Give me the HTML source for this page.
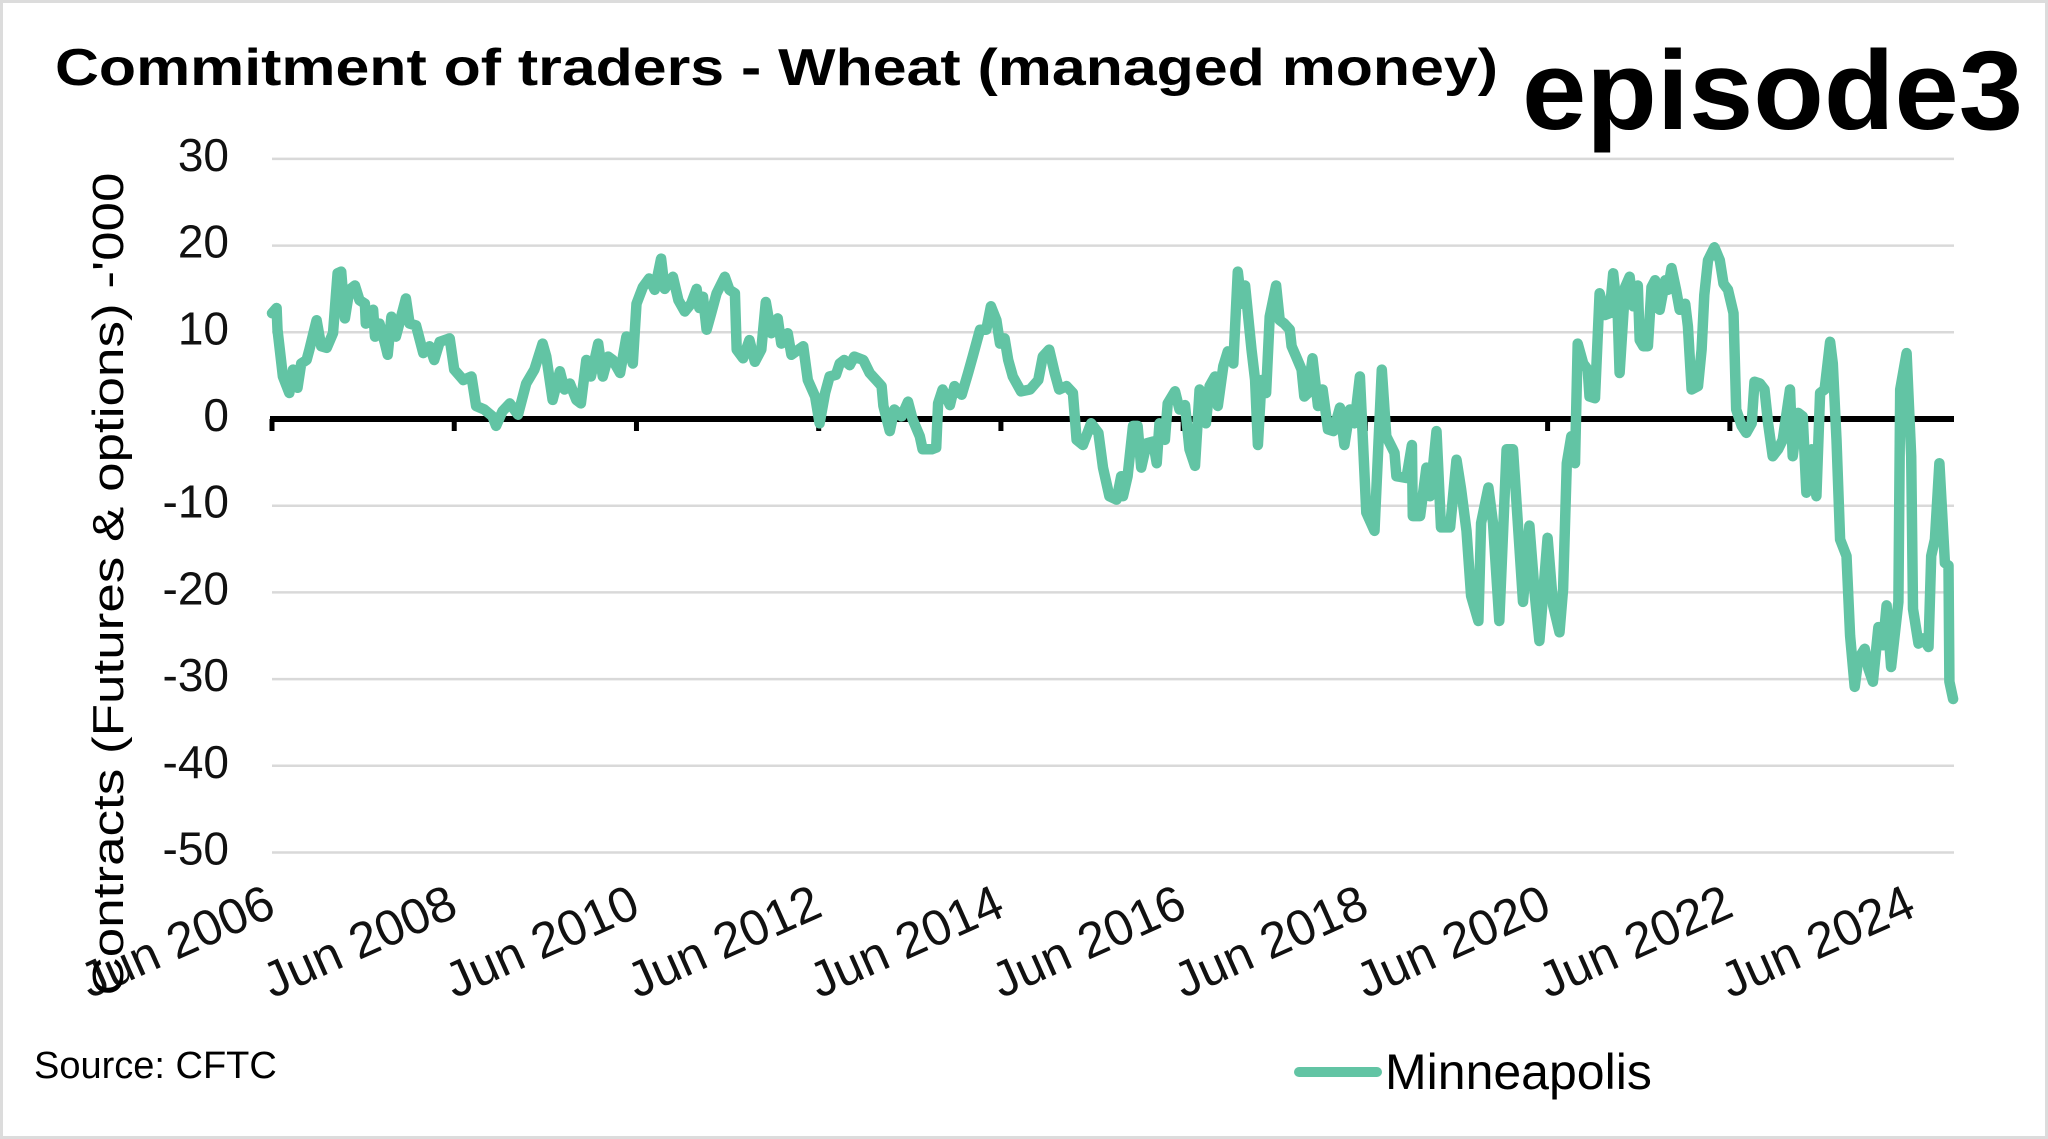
<!DOCTYPE html>
<html>
<head>
<meta charset="utf-8">
<style>
  html,body{margin:0;padding:0;background:#fff;}
  #wrap{position:relative;width:2048px;height:1139px;overflow:hidden;background:#fff;box-sizing:border-box;border:3px solid #dcdcdc;}
  svg{position:absolute;left:0;top:0;}
  text{font-family:"Liberation Sans",sans-serif;}
</style>
</head>
<body>
<div id="wrap">
<svg id="chart" width="2048" height="1139" viewBox="0 0 2048 1139">
  <text x="52" y="82" font-size="52" font-weight="bold" fill="#000" textLength="1443" lengthAdjust="spacingAndGlyphs">Commitment of traders - Wheat (managed money)</text>
  <text x="1519" y="126" font-size="112" font-weight="bold" fill="#000" textLength="501" lengthAdjust="spacingAndGlyphs">episode3</text>
  <g id="grid"></g>
  <g id="yticks"></g>
  <g id="xaxis"></g>
  <g id="series"></g>
  <text transform="translate(120,581) rotate(-90)" text-anchor="middle" font-size="44" fill="#000" textLength="823" lengthAdjust="spacingAndGlyphs">Contracts (Futures &amp; options) -'000</text>
  <text x="31" y="1075" font-size="38" fill="#000">Source: CFTC</text>
  <g>
    <line x1="1296" y1="1069" x2="1374" y2="1069" stroke="#62C4A4" stroke-width="10" stroke-linecap="round"/>
    <text x="1382" y="1086" font-size="50" fill="#000">Minneapolis</text>
  </g>
</svg>
</div>
<script>
const yTicks = [30, 20, 10, 0, -10, -20, -30, -40, -50];
const xTickYears = [2006, 2008, 2010, 2012, 2014, 2016, 2018, 2020, 2022, 2024];
const dates = [2006.42,2006.47,2006.48,2006.54,2006.61,2006.65,2006.70,2006.74,2006.80,2006.83,2006.91,2006.96,2007.02,2007.09,2007.14,2007.18,2007.22,2007.27,2007.33,2007.38,2007.44,2007.45,2007.53,2007.55,2007.60,2007.66,2007.69,2007.73,2007.78,2007.89,2007.93,2008.00,2008.08,2008.15,2008.20,2008.26,2008.37,2008.42,2008.52,2008.61,2008.66,2008.75,2008.84,2008.88,2008.95,2009.03,2009.12,2009.21,2009.30,2009.39,2009.43,2009.50,2009.58,2009.63,2009.69,2009.76,2009.81,2009.87,2009.92,2010.00,2010.05,2010.11,2010.16,2010.24,2010.31,2010.38,2010.42,2010.49,2010.56,2010.62,2010.69,2010.73,2010.82,2010.88,2010.95,2011.02,
2011.08,2011.11,2011.15,2011.19,2011.24,2011.30,2011.39,2011.44,2011.50,2011.52,2011.59,2011.66,2011.72,2011.79,2011.84,2011.90,2011.97,2012.01,2012.08,2012.12,2012.25,2012.30,2012.38,2012.43,2012.49,2012.54,2012.61,2012.65,2012.70,2012.76,2012.81,2012.91,2012.98,2013.05,2013.11,2013.13,2013.20,2013.25,2013.33,2013.40,2013.45,2013.53,2013.56,2013.66,2013.71,2013.73,2013.78,2013.86,2013.91,2013.99,2014.06,2014.11,2014.19,2014.26,2014.31,2014.37,2014.41,2014.46,2014.50,2014.55,2014.64,2014.74,2014.83,2014.88,2014.95,2015.01,2015.06,2015.14,2015.21,2015.25,2015.32,2015.41,2015.49,2015.54,2015.61,2015.69,2015.74,2015.76,
2015.81,2015.87,2015.92,2015.96,2016.02,2016.09,2016.13,2016.16,2016.22,2016.25,2016.33,2016.38,2016.44,2016.49,2016.55,2016.60,2016.67,2016.71,2016.77,2016.80,2016.86,2016.91,2016.97,2017.02,2017.06,2017.10,2017.17,2017.21,2017.24,2017.28,2017.33,2017.37,2017.44,2017.48,2017.53,2017.59,2017.61,2017.66,2017.72,2017.75,2017.79,2017.84,2017.90,2017.95,2018.01,2018.07,2018.14,2018.19,2018.25,2018.30,2018.36,2018.43,2018.52,2018.60,2018.65,2018.74,2018.76,2018.87,2018.93,2018.94,2019.02,2019.09,2019.13,2019.20,2019.25,2019.35,2019.42,2019.47,2019.53,2019.58,2019.66,2019.69,2019.77,2019.82,2019.89,2019.97,2020.04,2020.15,2020.22,2020.28,2020.33,2020.42,2020.48,2020.55,
2020.59,2020.63,2020.68,2020.72,2020.75,2020.81,2020.86,2020.88,2020.94,2020.99,2021.05,2021.10,2021.14,2021.19,2021.21,2021.27,2021.32,2021.36,2021.41,2021.43,2021.47,2021.52,2021.56,2021.60,2021.65,2021.71,2021.74,2021.78,2021.83,2021.87,2021.93,2021.96,2022.00,2022.07,2022.11,2022.14,2022.18,2022.25,2022.31,2022.35,2022.40,2022.46,2022.49,2022.55,2022.60,2022.66,2022.69,2022.75,2022.80,2022.84,2022.89,2022.95,2023.00,2023.08,2023.11,2023.17,2023.22,2023.26,2023.32,2023.37,2023.41,2023.46,2023.52,2023.55,2023.59,2023.63,2023.70,2023.74,2023.79,2023.83,2023.90,2023.94,2023.99,2024.05,2024.10,2024.14,2024.19,2024.27,2024.29,2024.36,2024.41,2024.43,2024.49,2024.54,2024.60,2024.63,2024.67,2024.72,2024.78,2024.82,2024.83,2024.87];
const values = [12.2,12.8,10.3,4.9,3,5.7,3.6,6.4,6.8,8,11.4,8.4,8.2,9.9,16.8,17,11.6,14.9,15.4,13.7,13.3,11,12.6,9.5,11,8.7,7.4,11.8,9.5,13.9,11,10.8,7.6,8.4,6.8,8.9,9.3,5.7,4.5,4.9,1.5,1.1,0.3,-0.8,0.9,1.8,0.5,4.1,5.7,8.7,7.2,2.2,5.5,3.4,4.1,2.2,1.8,6.8,4.9,8.7,4.9,7.2,6.8,5.3,9.5,6.4,13.3,15.2,16.2,14.9,18.5,15,16.4,13.7,12.4,13.3,
15,12.8,14.1,10.3,12.2,14.5,16.4,14.9,14.5,8,7,9.1,6.6,8,13.5,9.9,11.6,8.7,9.9,7.4,8.4,4.5,2.6,-0.5,3,4.9,5.1,6.4,6.8,6.2,7.2,6.8,5.3,4.5,3.8,1.5,-1.4,1.1,0.3,2,0,-2,-3.5,-3.5,-3.3,1.8,3.4,1.6,3.8,2.8,5.3,7.2,10.3,10.3,13,11.4,8.7,9.3,6.8,4.9,3.2,3.4,4.5,7.2,8,5.3,3.4,3.8,3,-2.4,-3,-0.5,-1.6,-5.6,-8.9,-9.3,-6.6,-8.9,
-6.6,-0.8,-0.8,-5.6,-2.8,-2.6,-5.1,-0.5,-2.4,1.8,3.2,1.1,1.6,-3.5,-5.4,3.4,-0.5,3.8,4.9,1.5,6.1,7.8,6.4,17,13.3,15.4,8,4.5,-3,4.5,3,11.8,15.4,11.4,11,10.3,8.4,7.2,5.7,2.6,3,7,1.5,3.4,-1.2,-1.4,1.3,-3,1.1,-0.5,4.9,-10.8,-12.9,5.7,-2,-3.9,-6.6,-6.8,-3,-11.2,-11.2,-5.6,-8.9,-1.4,-12.5,-12.5,-4.7,-8.1,-12.9,-20.4,-23.3,-12,-7.9,-12,-23.3,-3.5,-3.5,-21.1,-12.3,-20.4,-25.6,-13.7,-21.5,-24.6,
-19.6,-5.1,-2,-5.1,8.7,6.4,5.7,2.6,2.4,14.5,12,12.2,16.8,11.8,5.3,15.2,16.4,13,15.4,9.1,8.4,8.4,15.2,16,12.6,16,14.9,17.4,14.9,12.6,13.3,10.7,3.4,3.8,8,14.3,18.3,19.8,18.3,15.6,14.9,12.2,1.1,-0.8,-1.6,-0.5,4.3,4.1,3.4,-0.5,-4.3,-3.5,-2.4,3.4,-4.3,0.7,0.3,-8.5,-3.5,-8.9,3,3.4,8.9,6.4,-2.4,-13.9,-15.8,-25,-30.9,-27.7,-26.5,-28.8,-30.3,-24,-26.1,-21.5,-28.6,-21.1,3.4,7.6,-4.3,-21.9,-25.9,-25.3,-26.3,-15.8,-13.9,-5.1,-16.6,-16.9,-30.3,-32.3];

const NS = 'http://www.w3.org/2000/svg';
const X0 = 269, X1 = 1951, T0 = 2006.42, T1 = 2024.88;
const Y0 = 416, PER = 8.67;
function xScale(t){ return X0 + (t - T0) * (X1 - X0) / (T1 - T0); }
function yScale(v){ return Y0 - v * PER; }
function mk(tag, attrs, parent){
  const el = document.createElementNS(NS, tag);
  for (const k in attrs) el.setAttribute(k, attrs[k]);
  parent.appendChild(el);
  return el;
}
const grid = document.getElementById('grid');
const yt = document.getElementById('yticks');
yTicks.forEach(v => {
  if (v !== 0) {
    const g = mk('line', {x1: X0, x2: X1, y1: yScale(v), y2: yScale(v), stroke: '#d9d9d9', 'stroke-width': 2.5}, grid);
    
    
  }
  const t = mk('text', {x: 226, y: yScale(v) + 12, 'text-anchor': 'end', 'font-size': 46, fill: '#111'}, yt);
  t.textContent = String(v);
  
  
});
const xa = document.getElementById('xaxis');
const zl = mk('line', {x1: X0 - 2, x2: X1, y1: Y0, y2: Y0, stroke: '#000', 'stroke-width': 6}, xa);


xTickYears.forEach(yr => {
  const x = xScale(yr + 0.42);
  const tk = mk('line', {x1: x, x2: x, y1: Y0, y2: Y0 + 12, stroke: '#000', 'stroke-width': 5}, xa);
  
  
  const lb = mk('text', {x: x + 6, y: 912, 'text-anchor': 'end', 'font-size': 50, fill: '#111', transform: 'rotate(-24 ' + (x + 6) + ' 912)'}, xa);
  lb.textContent = 'Jun ' + yr;
  
  
});
const s = document.getElementById('series');
let d = '';
for (let i = 0; i < dates.length && i < values.length; i++) {
  d += (i ? 'L' : 'M') + xScale(dates[i]).toFixed(1) + ' ' + yScale(values[i]).toFixed(1);
}
const path = mk('path', {d: d, fill: 'none', stroke: '#62C4A4', 'stroke-width': 10.5, 'stroke-linejoin': 'round', 'stroke-linecap': 'round'}, s);


</script>
</body>
</html>
